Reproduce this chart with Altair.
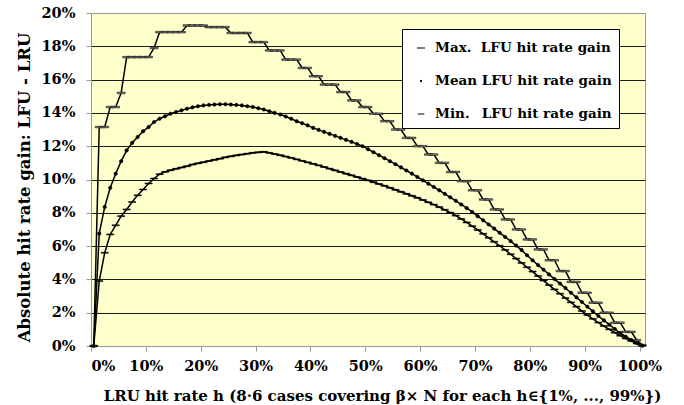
import altair as alt
import pandas as pd

# LRU hit rate h in % (category positions 0..100)
h_values = list(range(0, 101))

max_gain = [0, 13.15, 13.15, 14.35, 14.35, 15.2,
            17.35, 17.35, 17.35, 17.35, 17.35, 17.9,
            18.85, 18.85, 18.85, 18.85, 18.85,
            19.25, 19.25, 19.25, 19.25,
            19.15, 19.15, 19.15, 19.15,
            18.8, 18.8, 18.8, 18.8,
            18.25, 18.25, 18.25,
            17.75, 17.75, 17.75,
            17.2, 17.2, 17.2,
            16.7, 16.7, 16.2, 16.2,
            15.7, 15.7, 15.7, 15.25, 15.25,
            14.75, 14.75, 14.35, 14.35, 13.95, 13.95, 13.5, 13.5,
            13.0, 13.0, 12.5, 12.5, 12.0, 12.0, 11.5, 11.5,
            11.0, 11.0, 10.45, 10.45, 9.9, 9.9, 9.35, 9.35,
            8.8, 8.8, 8.2, 8.2, 7.6, 7.6, 7.0, 7.0,
            6.4, 6.4, 5.8, 5.8, 5.15, 5.15, 4.5, 4.5,
            3.85, 3.85, 3.2, 3.2, 2.6, 2.6, 2.0, 2.0,
            1.4, 1.4, 0.85, 0.85, 0.35, 0.05]

mean_gain = [0, 6.75, 8.35, 9.5, 10.35, 11.1, 11.75, 12.2, 12.55, 12.9,
             13.15, 13.45, 13.65, 13.8, 13.95, 14.05, 14.15, 14.25, 14.33, 14.4,
             14.45, 14.48, 14.5, 14.52, 14.52, 14.5, 14.48, 14.45, 14.4, 14.35,
             14.28, 14.2, 14.1, 14.0, 13.9, 13.78, 13.65, 13.5, 13.38, 13.25,
             13.1, 12.98, 12.86, 12.74, 12.62, 12.5, 12.38, 12.26, 12.13, 12.0,
             11.82, 11.64, 11.46, 11.28, 11.1, 10.92, 10.73, 10.54, 10.35, 10.15,
             9.95, 9.75, 9.55, 9.35, 9.14, 8.93, 8.72, 8.5, 8.28, 8.05,
             7.8, 7.55, 7.3, 7.05, 6.8, 6.55, 6.3, 6.03, 5.76, 5.45,
             5.15, 4.86, 4.58, 4.3, 4.02, 3.75, 3.48, 3.2, 2.92, 2.64,
             2.36, 2.08, 1.8, 1.54, 1.28, 1.02, 0.78, 0.56, 0.36, 0.18,
             0.02]

min_gain = [0, 3.9, 5.6, 6.7, 7.25, 7.8, 8.2, 8.65, 9.05, 9.4,
            9.76, 10.06, 10.32, 10.46, 10.56, 10.64, 10.72, 10.8, 10.9, 10.97,
            11.04, 11.11, 11.18, 11.25, 11.33, 11.39, 11.45, 11.5, 11.55, 11.6,
            11.63, 11.66, 11.6, 11.53, 11.46, 11.38, 11.3, 11.21, 11.12, 11.03,
            10.94, 10.85, 10.75, 10.65, 10.55, 10.45, 10.35, 10.25, 10.15, 10.05,
            9.95, 9.84, 9.73, 9.62, 9.5, 9.38, 9.26, 9.14, 9.02, 8.9,
            8.77, 8.63, 8.49, 8.34, 8.18, 8.01, 7.83, 7.63, 7.42, 7.2,
            6.97, 6.74, 6.5, 6.26, 6.02, 5.77, 5.51, 5.25, 4.99, 4.73,
            4.47, 4.2, 3.93, 3.66, 3.4, 3.14, 2.88, 2.62, 2.36, 2.1,
            1.86, 1.63, 1.41, 1.2, 1.0, 0.8, 0.62, 0.45, 0.3, 0.15,
            0.02]

series_names = ["Max.\u00a0\u00a0LFU hit rate gain",
                "Mean LFU hit rate gain",
                "Min.\u00a0\u00a0\u2009LFU hit rate gain"]

x_tick_labels = [0, 10, 20, 30, 40, 50, 60, 70, 80, 90, 100]
y_tick_labels = [0, 2, 4, 6, 8, 10, 12, 14, 16, 18, 20]

x_title = "LRU hit rate h (8\u00b76 cases covering \u03b2\u00d7 N for each h\u2208{1%, ..., 99%})"
y_title = "Absolute hit rate gain: LFU - LRU"

rows = []
for name, vals in zip(series_names, [max_gain, mean_gain, min_gain]):
    for h, v in zip(h_values, vals):
        rows.append({"h": h, "gain": v, "series": name})
df = pd.DataFrame(rows)

FONT = "DejaVu Serif"

def octagon(r, cx=0.0):
    k = r * 0.7071
    return (f"M{cx + r},0L{cx + k},{k}L{cx},{r}L{cx - k},{k}L{cx - r},0"
            f"L{cx - k},{-k}L{cx},{-r}L{cx + k},{-k}Z")

marker_paths = [
    "M-1,-0.2H1V0.2H-1Z",
    octagon(0.45),
    "M-0.9,-0.13H0.9V0.13H-0.9Z",
]
legend_paths = [
    "M-1,0H1M-0.36,-0.09H0.36V0.09H-0.36Z",
    "M-1,0H1" + octagon(0.11),
    "M-1,0H1M-0.3,-0.05H0.3V0.05H-0.3Z",
]
fill_colors = ["#7a7a7a", "black", "black"]

x_enc = alt.X(
    "h:Q",
    scale=alt.Scale(domain=[-0.5, 100.5], nice=False, zero=False),
    axis=alt.Axis(
        values=[t - 0.5 for t in x_tick_labels],
        labelExpr="format(datum.value + 0.5, 'd') + '%'",
        title=x_title,
        grid=False,
        labelPadding=8,
        labelFontSize=14.5,
        titleFontSize=15,
        titleX=291,
        titleY=54,
        titleAlign="center",
        titleBaseline="alphabetic",
    ),
)
y_enc = alt.Y(
    "gain:Q",
    scale=alt.Scale(domain=[0, 20], nice=False),
    axis=alt.Axis(
        values=y_tick_labels,
        labelExpr="datum.value + '%'",
        title=y_title,
        grid=True,
        gridColor={"condition": {"test": "datum.value == 0 || datum.value == 20", "value": "#999999"},
                   "value": "#1a1a1a"},
        gridWidth=1,
        labelPadding=11,
        labelFontSize=14.5,
        titleFontSize=16.5,
        titleX=-62,
        titleY=174,
        titleAngle=270,
        titleAlign="center",
        titleBaseline="alphabetic",
    ),
)

base = alt.Chart(df)

lines = base.mark_line(color="black", strokeWidth=1.5).encode(
    x=x_enc, y=y_enc, detail="series:N"
)

markers = base.mark_point(filled=True, stroke="black", strokeWidth=0.5, size=64, opacity=1).encode(
    x=x_enc, y=y_enc,
    shape=alt.Shape("series:N", scale=alt.Scale(domain=series_names, range=marker_paths), legend=None),
    fill=alt.Fill("series:N", scale=alt.Scale(domain=series_names, range=fill_colors), legend=None),
)

leg = alt.Legend(
    orient="none", legendX=311, legendY=16, title=None,
    fillColor="white", strokeColor="black", padding=7,
    labelFont=FONT, labelFontSize=13.5, labelFontWeight="bold", labelColor="black",
    symbolSize=484, symbolStrokeColor="black", symbolStrokeWidth=1.3, symbolOpacity=1,
    rowPadding=14, labelOffset=2, labelLimit=400, offset=0,
)

legend_layer = base.transform_filter("datum.h < 0").mark_point(
    filled=True, stroke="black", strokeWidth=1.3
).encode(
    x=x_enc, y=y_enc,
    shape=alt.Shape("series:N", scale=alt.Scale(domain=series_names, range=legend_paths), legend=leg),
    fill=alt.Fill("series:N", scale=alt.Scale(domain=series_names, range=fill_colors), legend=leg),
)

chart = alt.layer(lines, markers, legend_layer).resolve_scale(
    shape="independent", fill="independent"
).resolve_legend(shape="independent", fill="independent").properties(
    width=554, height=333,
    autosize=alt.AutoSizeParams(type="none"),
    padding={"left": 91, "top": 13, "right": 39, "bottom": 59},
).configure_view(
    fill="#FFFFCC", stroke="#999999", strokeWidth=1
).configure_axis(
    labelFont=FONT, labelFontWeight="bold", labelColor="black",
    titleFont=FONT, titleFontWeight="bold", titleColor="black",
    domainColor="#999999", tickColor="#999999", tickSize=5, domainWidth=1,
)

chart.save("out.html", embed_options={"renderer": "svg", "actions": False})
